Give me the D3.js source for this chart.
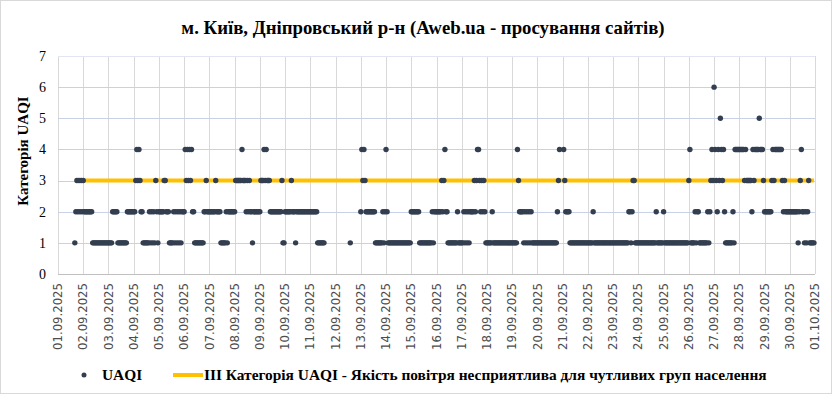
<!DOCTYPE html>
<head>
<meta charset="utf-8">
<style>
body { margin:0; background:#fff; }
svg { display:block; }
.serif { font-family:'Liberation Serif', 'Times New Roman', serif; fill:#000; }
.xlab { font-family:'DejaVu Sans', sans-serif; font-size:11.7px; fill:#4d4d4d; }
</style>
</head>
<body>
<div id="chart1"></div>
<script src="https://d3js.org/d3.v7.min.js"></script>
<script>

// one string per day, one character per hour (00..23), '.' = no reading
var days = ["01.09","02.09","03.09","04.09","05.09","06.09","07.09","08.09","09.09","10.09",
            "11.09","12.09","13.09","14.09","15.09","16.09","17.09","18.09","19.09","20.09",
            "21.09","22.09","23.09","24.09","25.09","26.09","27.09","28.09","29.09","30.09"];

var uaqiHourly = [
  "................12323232",
  "322222222111111111111111",
  "111122222111111111222222",
  "223434322111111212121321",
  "222223322211112121212122",
  "243434342211111111122322",
  "222222322221111121222222",
  "233333343332323221222222",
  "233343433322222222222311",
  "222222322212222222222222",
  "22222221111111..........",
  "..............1.........",
  "243432222222221111111212",
  "421111111111111111111111",
  "222222221111111111112122",
  "222223234221111111112111",
  "112121212222323443232321",
  "111112111111111111111111",
  "111114322221212121211111",
  "1111111111111111111234..",
  ".43222211111111111111111",
  "111112111111111111111111",
  "111111111111111221233111",
  "111111111111111112111111",
  "211111111111111111111111",
  "341111212211111111212343",
  "643243543421111111214444",
  "444443433333243444454443",
  "222222234344444443232222",
  "222222221234221212311111"
];

var threshold = 3;
var yTicks = [0, 1, 2, 3, 4, 5, 6, 7];
var titleText = "м. Київ, Дніпровський р-н (Aweb.ua - просування сайтів)";
var yTitle = "Категорія UAQI";
var legendDots = "UAQI";
var legendLine = "ІІІ Категорія UAQI - Якість повітря несприятлива для чутливих груп населення";

var W = 832, H = 394;
var plot = {left: 58, right: 815, top: 56, bottom: 274};

var data = [];
uaqiHourly.forEach(function(s, i) {
  var p = days[i].split(".");
  for (var h = 0; h < s.length; h++) {
    if (s[h] === ".") continue;
    data.push({t: new Date(Date.UTC(2025, +p[1] - 1, +p[0], h)), v: +s[h]});
  }
});

var svg = d3.select('#chart1')
  .append('svg')
    .attr('width', W)
    .attr('height', H);

svg.append("rect")
    .attr("x", 0.5).attr("y", 0.5)
    .attr("width", W - 1).attr("height", H - 1)
    .attr("fill", "#fff")
    .attr("stroke", "#d9d9d9");

var xScale = d3.scaleUtc()
    .domain([new Date(Date.UTC(2025, 8, 1)), new Date(Date.UTC(2025, 9, 1))])
    .range([plot.left, plot.right]);

var yScale = d3.scaleLinear()
    .domain([0, 7])
    .range([plot.bottom, plot.top]);

var xTicks = xScale.ticks(d3.utcDay.every(1));
var fmt = d3.utcFormat("%d.%m.%Y");

// gridlines
svg.append("g").selectAll("line")
    .data(xTicks)
  .enter().append("line")
    .attr("x1", function(d) { return Math.round(xScale(d)) + 0.5; })
    .attr("x2", function(d) { return Math.round(xScale(d)) + 0.5; })
    .attr("y1", plot.top)
    .attr("y2", plot.bottom)
    .attr("stroke", "#d9d9d9");

svg.append("g").selectAll("line")
    .data(yTicks.filter(function(d) { return d > 0; }))
  .enter().append("line")
    .attr("x1", plot.left)
    .attr("x2", plot.right)
    .attr("y1", function(d) { return Math.round(yScale(d)) + 0.5; })
    .attr("y2", function(d) { return Math.round(yScale(d)) + 0.5; })
    .attr("stroke", function(d) { return d === 7 ? "#e1e6f2" : "#c9d1e6"; });

svg.append("line")
    .attr("x1", plot.left).attr("x2", plot.right)
    .attr("y1", plot.bottom + 0.5).attr("y2", plot.bottom + 0.5)
    .attr("stroke", "#bfbfbf");

// threshold line over the span of readings
var ext = d3.extent(data, function(d) { return d.t; });
svg.append("line")
    .attr("x1", xScale(ext[0]))
    .attr("x2", xScale(ext[1]))
    .attr("y1", yScale(threshold))
    .attr("y2", yScale(threshold))
    .attr("stroke", "#ffc000")
    .attr("stroke-width", 4);

svg.append("g").selectAll("circle")
    .data(data)
  .enter().append("circle")
    .attr("cx", function(d) { return xScale(d.t); })
    .attr("cy", function(d) { return yScale(d.v); })
    .attr("r", 2.7)
    .attr("fill", "#333f50");

// axis labels
svg.append("g").selectAll("text")
    .data(yTicks)
  .enter().append("text")
    .attr("class", "serif")
    .attr("x", 46)
    .attr("y", function(d) { return yScale(d); })
    .attr("dy", "0.35em")
    .attr("text-anchor", "end")
    .attr("font-size", "14px")
    .text(function(d) { return d; });

svg.append("g").selectAll("text")
    .data(xTicks)
  .enter().append("text")
    .attr("class", "xlab")
    .attr("transform", function(d) { return "translate(" + xScale(d) + ",283) rotate(-90)"; })
    .attr("dy", "0.35em")
    .attr("text-anchor", "end")
    .text(function(d) { return fmt(d); });

svg.append("text")
    .attr("class", "serif")
    .attr("transform", "translate(23,151) rotate(-90)")
    .attr("dy", "0.35em")
    .attr("text-anchor", "middle")
    .attr("font-size", "15px")
    .attr("font-weight", "bold")
    .text(yTitle);

svg.append("text")
    .attr("class", "serif")
    .attr("x", 423)
    .attr("y", 27)
    .attr("dy", "0.35em")
    .attr("text-anchor", "middle")
    .attr("font-size", "18.8px")
    .attr("font-weight", "bold")
    .text(titleText);

// legend
var ly = 375;
svg.append("circle")
    .attr("cx", 84).attr("cy", ly).attr("r", 2.5)
    .attr("fill", "#333f50");
svg.append("text")
    .attr("class", "serif")
    .attr("x", 102).attr("y", ly).attr("dy", "0.35em")
    .attr("font-size", "15.4px").attr("font-weight", "bold")
    .text(legendDots);
svg.append("line")
    .attr("x1", 173).attr("x2", 203)
    .attr("y1", ly).attr("y2", ly)
    .attr("stroke", "#ffc000").attr("stroke-width", 4);
svg.append("text")
    .attr("class", "serif")
    .attr("x", 204).attr("y", ly).attr("dy", "0.35em")
    .attr("font-size", "15.4px").attr("font-weight", "bold")
    .text(legendLine);

</script>
</body>
